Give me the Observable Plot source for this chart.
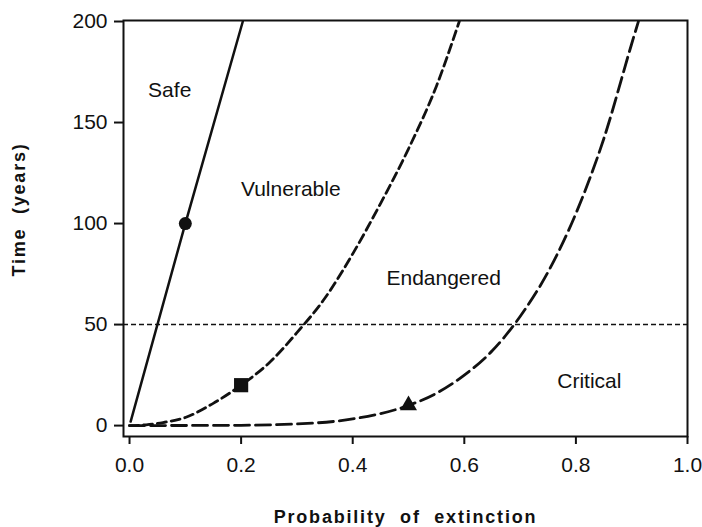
<!DOCTYPE html>
<html>
<head>
<meta charset="utf-8">
<script src="https://cdn.jsdelivr.net/npm/d3@7"></script>
<script src="https://cdn.jsdelivr.net/npm/@observablehq/plot@0.6"></script>
<style>
  html, body { margin: 0; padding: 0; background: #fff; }
  #chart svg { display: block; }
</style>
</head>
<body>
<div id="chart"></div>
<script>
// ---- data ----
const probTicks = [0, 0.2, 0.4, 0.6, 0.8, 1.0];
const timeTicks = [0, 50, 100, 150, 200];

// "Safe" boundary (solid line)
const safeP = [0.002, 0.1, 0.203];
const safeT = [2, 100, 200];

// "Vulnerable" boundary (short dashes)
const vulnP = [0.0, 0.03, 0.06, 0.1, 0.15, 0.2, 0.25, 0.3, 0.35, 0.4, 0.45, 0.5, 0.55, 0.591];
const vulnT = [0, 0.4, 1.5, 4, 11, 20, 31, 46, 63, 85, 110, 137, 168, 200];

// "Critical" boundary (long dashes)
const critP = [0.0, 0.1, 0.2, 0.3, 0.4, 0.5, 0.55, 0.6, 0.65, 0.7, 0.75, 0.8, 0.85, 0.9, 0.912];
const critT = [0, 0.05, 0.15, 0.8, 3.3, 10, 16, 25, 37, 54, 76, 105, 142, 189, 200];

// 50-year threshold
const thresholdT = [50];

// markers
const markerP = [0.1, 0.2, 0.5];
const markerT = [100, 20, 10];
const markerSymbol = ["circle", "square", "triangle"];

// zone labels
const zoneNames = ["Safe", "Vulnerable", "Endangered", "Critical"];
const zoneP = [0.072, 0.289, 0.563, 0.824];
const zoneT = [166, 117, 73, 22];

const xTitle = "Probability  of  extinction";
const yTitle = "Time  (years)";

// ---- build tables ----
const zip = (xs, ys) => xs.map((x, i) => ({p: x, t: ys[i]}));
const safe = zip(safeP, safeT);
const vuln = zip(vulnP, vulnT);
const crit = zip(critP, critT);
const markers = markerP.map((p, i) => ({p, t: markerT[i], s: markerSymbol[i]}));
const zones = zoneNames.map((n, i) => ({n, p: zoneP[i], t: zoneT[i]}));

const ink = "#111";
const font = "'Liberation Sans', Arial, Helvetica, sans-serif";
const dotSize = {circle: 6.5, square: 8, triangle: 6.3};

const chart = Plot.plot({
  width: 702,
  height: 527,
  marginLeft: 123,
  marginRight: 15,
  marginTop: 20,
  marginBottom: 91,
  style: {fontFamily: font, fontSize: "21px", color: ink, background: "#fff"},
  x: {domain: [-0.0108, 1.0]},
  y: {domain: [-5.4, 200.5]},
  symbol: {type: "identity"},
  marks: [
    Plot.ruleY(thresholdT, {stroke: ink, strokeWidth: 1.4, strokeDasharray: "5,3"}),
    Plot.line(safe, {x: "p", y: "t", stroke: ink, strokeWidth: 2.5}),
    Plot.line(vuln, {x: "p", y: "t", stroke: ink, strokeWidth: 2.8, strokeDasharray: "9,5", curve: "monotone-x"}),
    Plot.line(crit, {x: "p", y: "t", stroke: ink, strokeWidth: 2.8, strokeDasharray: "15,6", curve: "monotone-x"}),
    ...markerSymbol.map(s =>
      Plot.dot(markers.filter(d => d.s === s), {x: "p", y: "t", symbol: "s", r: dotSize[s], fill: ink, stroke: "none"})
    ),
    Plot.text(zones, {x: "p", y: "t", text: "n", fill: ink, fontSize: 21}),
    Plot.frame({stroke: ink, strokeWidth: 2}),
    Plot.axisX({ticks: probTicks, tickFormat: d3.format(".1f"), tickSize: 8, tickPadding: 13, strokeWidth: 2, label: null, fill: ink, fontSize: 21}),
    Plot.axisY({ticks: timeTicks, tickFormat: d3.format("d"), tickSize: 9, tickPadding: 7, strokeWidth: 2, label: null, fill: ink, fontSize: 21}),
    Plot.text([xTitle], {frameAnchor: "bottom", textAnchor: "middle", dy: 81, fontWeight: "bold", fontSize: 18, fill: ink, lineAnchor: "middle"}),
    Plot.text([yTitle], {frameAnchor: "left", textAnchor: "middle", dx: -104, dy: -19, rotate: -90, fontWeight: "bold", fontSize: 18, fill: ink, lineAnchor: "middle"})
  ]
});
chart.querySelectorAll("text").forEach(t => t.style.whiteSpace = "pre");
chart.querySelectorAll("text").forEach(t => {
  const s = t.textContent;
  if (s === xTitle || s === yTitle) t.style.letterSpacing = "1.8px";
});
document.getElementById("chart").appendChild(chart);
</script>
</body>
</html>
